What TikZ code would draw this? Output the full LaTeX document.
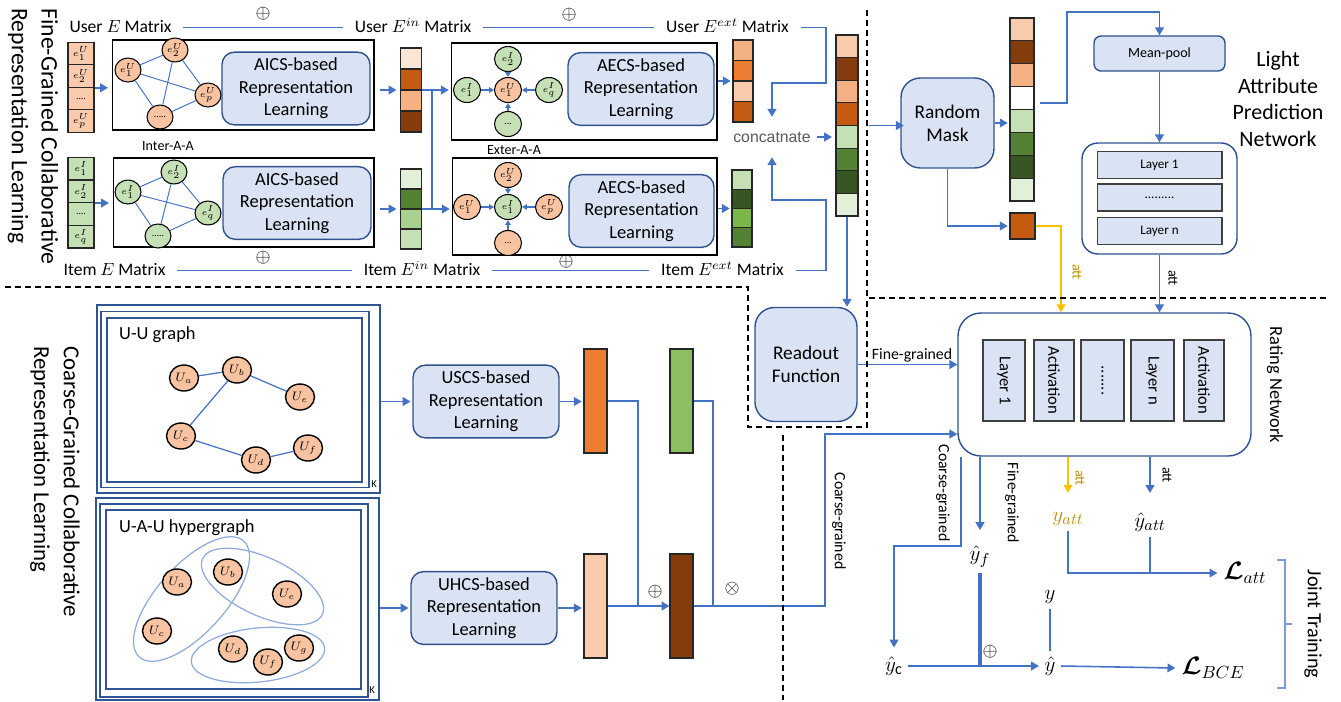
\documentclass[tikz,border=0pt]{standalone}
\usepackage{amsmath}
\usepackage{fontspec}
\setmainfont{Carlito}
\newfontfamily\arialfont{Liberation Sans}
\usetikzlibrary{arrows.meta,shapes.geometric}

\newcommand{\fsz}[2]{\fontsize{#1}{#2}\selectfont}

\definecolor{lineblue}{HTML}{4472C4}
\definecolor{boxfill}{HTML}{DAE3F3}
\definecolor{boxedge}{HTML}{2F528F}
\definecolor{frameblue}{HTML}{2F5597}
\definecolor{hyperblue}{HTML}{8FAADC}
\definecolor{gold}{HTML}{FFC000}
\definecolor{goldtext}{HTML}{BF9000}
\definecolor{catgray}{HTML}{595959}
\definecolor{nodepeach}{HTML}{F7C3A0}
\definecolor{peachL}{HTML}{FBE5D6}
\definecolor{peach}{HTML}{F8CBAD}
\definecolor{peachM}{HTML}{F4B183}
\definecolor{orangeM}{HTML}{ED7D31}
\definecolor{orangeD}{HTML}{C55A11}
\definecolor{brownD}{HTML}{843C0C}
\definecolor{greenL}{HTML}{E2F0D9}
\definecolor{greenM}{HTML}{C5E0B4}
\definecolor{greenA}{HTML}{A9D18E}
\definecolor{greenB}{HTML}{7AB648}
\definecolor{greenD}{HTML}{548235}
\definecolor{greenDD}{HTML}{375623}
\definecolor{greenbar}{HTML}{8CBF62}

\begin{document}
\begin{tikzpicture}[x=0.02cm, y=-0.02cm, font=\fsz{10}{12},
    ln/.style={draw=lineblue, line width=0.9pt},
    thinln/.style={draw=lineblue, line width=0.7pt},
    edge/.style={draw=lineblue, line width=0.55pt},
    arr/.style={ln, -{Triangle[length=4.5pt, width=5pt]}},
    thinarr/.style={draw=lineblue, line width=0.7pt, -{Triangle[length=2.8pt, width=3.2pt]}},
    goldarr/.style={draw=gold, line width=1pt, -{Triangle[length=4.5pt, width=5pt]}},
    divider/.style={draw=black, line width=1.1pt, dash pattern=on 3.4pt off 2.3pt},
    repbox/.style={draw=boxedge, fill=boxfill, line width=0.8pt, rounded corners=7pt, align=center, font=\fsz{10.5}{12.8}},
    graphbox/.style={draw=black, line width=0.6pt},
    cell/.style={draw=black!85, line width=0.6pt, inner sep=0},
    emb/.style={cell, minimum width=0.52cm, minimum height=0.45cm, font=\fsz{5.5}{6}},
    gnode/.style={ellipse, draw=black, line width=0.6pt, inner sep=0, minimum width=0.52cm, minimum height=0.48cm, font=\fsz{5.5}{6}},
    xnode/.style={gnode, minimum width=0.54cm, minimum height=0.5cm},
    unode/.style={ellipse, draw=black, line width=0.8pt, fill=nodepeach, inner sep=0, minimum width=0.58cm, minimum height=0.52cm, font=\fsz{7}{8}},
    kframe/.style={draw=frameblue, line width=0.8pt},
    hyper/.style={draw=hyperblue, line width=0.7pt},
    layerbox/.style={draw=black!75, fill=boxfill, line width=0.6pt, inner sep=0},
    lbl/.style={font=\fsz{10}{12}, text height=1.7ex, text depth=0.45ex, inner xsep=6.5pt},
    small/.style={font=\fsz{9}{10}},
    tiny/.style={font=\fsz{8}{9}},
    mathlbl/.style={font=\fsz{13}{14}, inner sep=3pt},
  ]
  \useasboundingbox (0,0) rectangle (1341,701);

  % ---------- fine-grained part ----------
  \node[rotate=-90, anchor=west, align=left, inner sep=0, font=\fsz{13.5}{17}] (fineT) at (33,8) {Fine-Grained Collaborative\\Representation Learning};

  \node[lbl] (uE) at (120.5,27.5) {User $E$ Matrix};
  \node[lbl] (uEin) at (413,27.5) {User $E^{in}$ Matrix};
  \node[lbl] (uEext) at (727.5,27.5) {User $E^{ext}$ Matrix};
  \node[lbl] (iE) at (114.5,270.5) {Item $E$ Matrix};
  \node[lbl] (iEin) at (422,270.5) {Item $E^{in}$ Matrix};
  \node[lbl] (iEext) at (722.5,270.5) {Item $E^{ext}$ Matrix};
  \node[font=\fsz{11}{12}] (pu1) at (263,14) {$\oplus$};
  \node[font=\fsz{11}{12}] (pu2) at (569,15) {$\oplus$};
  \node[font=\fsz{11}{12}] (pi1) at (263,258) {$\oplus$};
  \node[font=\fsz{11}{12}] (pi2) at (566,262) {$\oplus$};
  \draw[ln] (uE) -- (uEin);
  \draw[ln] (uEin) -- (uEext);
  \draw[ln] (iE) -- (iEin);
  \draw[ln] (iEin) -- (iEext);

  % attribute embeddings
  \node[emb, fill=peach] (ue1) at (81,53.5) {$e_1^U$};
  \node[emb, fill=peach] (ue2) at (81,76) {$e_2^U$};
  \node[emb, fill=peach] (ue3) at (81,98.5) {....};
  \node[emb, fill=peach] (ue4) at (81,121) {$e_p^U$};
  \node[emb, fill=greenM] (ie1) at (81,168.5) {$e_1^I$};
  \node[emb, fill=greenM] (ie2) at (81,191.25) {$e_2^I$};
  \node[emb, fill=greenM] (ie3) at (81,214) {....};
  \node[emb, fill=greenM] (ie4) at (81,236.75) {$e_q^I$};

  % inter-attribute graphs
  \node[graphbox, minimum width=5.24cm, minimum height=1.8cm] (uInter) at (243,85) {};
  \node[graphbox, minimum width=5.22cm, minimum height=1.78cm] (iInter) at (243.5,202.5) {};
  \node[repbox, minimum width=2.96cm, minimum height=1.34cm] (uAics) at (296,88.5) {AICS-based\\Representation\\Learning};
  \node[repbox, minimum width=2.96cm, minimum height=1.4cm] (iAics) at (297,203) {AICS-based\\Representation\\Learning};
  \node[tiny] (interT) at (168,146) {Inter-A-A};

  \node[gnode, fill=nodepeach] (ua1) at (128,70) {$e_1^U$};
  \node[gnode, fill=nodepeach] (ua2) at (175,50) {$e_2^U$};
  \node[gnode, fill=nodepeach] (uap) at (208,95) {$e_p^U$};
  \node[gnode, fill=nodepeach] (uad) at (160,117) {.....};
  \node[gnode, fill=greenM] (ia1) at (128,192) {$e_1^I$};
  \node[gnode, fill=greenM] (ia2) at (174,172) {$e_2^I$};
  \node[gnode, fill=greenM] (iaq) at (208,213) {$e_q^I$};
  \node[gnode, fill=greenM] (iad) at (158,236) {.....};
  \foreach \a/\b in {ua1/ua2, ua1/uap, ua1/uad, ua2/uap, ua2/uad, uap/uad,
                     ia1/ia2, ia1/iaq, ia1/iad, ia2/iaq, ia2/iad, iaq/iad}
    \draw[edge] (\a) -- (\b);

  \draw[arr, shorten >=2pt] (ue2.south east) -- (ue2.south east -| uInter.west);
  \draw[arr, shorten >=2pt] (ie2.south east) -- (ie2.south east -| iInter.west);

  % inner representations
  \node[cell, minimum width=0.42cm, minimum height=1.68cm] (uIn) at (411,90) {};
  \foreach \c [count=\i from 0] in {peachL,orangeD,peachM,brownD}
    \node[cell, fill=\c, minimum width=0.42cm, minimum height=0.42cm] at (411,58.5+21*\i) {};
  \node[cell, minimum width=0.42cm, minimum height=1.6cm] (iIn) at (411,209) {};
  \foreach \c [count=\i from 0] in {greenL,greenD,greenA,greenM}
    \node[cell, fill=\c, minimum width=0.42cm, minimum height=0.4cm] at (411,179+20*\i) {};
  \draw[arr, shorten <=3pt, shorten >=2pt] (uInter.east |- uIn.west) -- (uIn.west);
  \draw[arr, shorten <=3pt, shorten >=2pt] (iInter.east |- iIn.west) -- (iIn.west);

  % exter-attribute graphs
  \node[graphbox, minimum width=5.32cm, minimum height=1.94cm] (uExter) at (584,91.5) {};
  \node[graphbox, minimum width=5.3cm, minimum height=1.94cm] (iExter) at (584.5,206.5) {};
  \node[repbox, minimum width=2.92cm, minimum height=1.4cm] (uAecs) at (641,89) {AECS-based\\Representation\\Learning};
  \node[repbox, minimum width=2.9cm, minimum height=1.4cm] (iAecs) at (641.5,211) {AECS-based\\Representation\\Learning};
  \node[tiny] (exterT) at (514,150) {Exter-A-A};

  \node[xnode, fill=nodepeach] (xu) at (508,90) {$e_1^U$};
  \node[xnode, fill=greenM] (xut) at (508,59) {$e_2^I$};
  \node[xnode, fill=greenM] (xul) at (467,90) {$e_1^I$};
  \node[xnode, fill=greenM] (xur) at (549,90) {$e_q^I$};
  \node[xnode, fill=greenM] (xub) at (508,124) {...};
  \node[xnode, fill=greenM] (xi) at (508,207) {$e_1^I$};
  \node[xnode, fill=nodepeach] (xit) at (508,175) {$e_2^U$};
  \node[xnode, fill=nodepeach] (xil) at (467,207) {$e_1^U$};
  \node[xnode, fill=nodepeach] (xir) at (549,207) {$e_p^U$};
  \node[xnode, fill=nodepeach] (xib) at (508,243) {...};
  \foreach \n in {xut,xul,xur,xub} \draw[thinarr] (\n) -- (xu);
  \foreach \n in {xit,xil,xir,xib} \draw[thinarr] (\n) -- (xi);

  \coordinate (busU) at (432,90);
  \coordinate (busI) at (432,209);
  \draw[ln] (uIn.east) -- (busU) -- (busI);
  \draw[ln] (iIn.east) -- (busI);
  \draw[arr, shorten >=1pt] (busU) -- (busU -| uExter.west);
  \draw[arr, shorten >=1pt] (busI) -- (busI -| iExter.west);

  % exter representations
  \node[cell, minimum width=0.4cm, minimum height=1.64cm] (uExt) at (743,81) {};
  \foreach \c [count=\i from 0] in {peachM,orangeM,peach,orangeD}
    \node[cell, fill=\c, minimum width=0.4cm, minimum height=0.41cm] at (743,50.25+20.5*\i) {};
  \node[cell, minimum width=0.4cm, minimum height=1.54cm] (iExt) at (742,208.5) {};
  \foreach \c [count=\i from 0] in {greenM,greenDD,greenB,greenD}
    \node[cell, fill=\c, minimum width=0.4cm, minimum height=0.385cm] at (742,179.6+19.25*\i) {};
  \draw[arr, shorten >=1pt] (uExter.east |- uExt.west) -- (uExt.west);
  \draw[arr, shorten >=1pt] (iExter.east |- iExt.west) -- (iExt.west);

  % concatenation
  \node[font=\arialfont\fsz{9}{11}, text=catgray] (concat) at (772,137) {concatnate};
  \node[cell, minimum width=0.44cm, minimum height=3.62cm] (cat) at (847,125.5) {};
  \foreach \c [count=\i from 0] in {peach,brownD,peachM,orangeD,greenM,greenD,greenDD,greenL}
    \node[cell, fill=\c, minimum width=0.44cm, minimum height=0.4525cm] at (847,46.3+22.625*\i) {};
  \coordinate (bendU) at (826,83);
  \coordinate (bendI) at (826,200);
  \draw[arr, shorten >=5pt] (uEext.east) -| (bendU) -| (concat.north);
  \draw[arr, shorten >=5pt] (iEext.east) -| (bendI) -| (concat.south);
  \draw[arr, shorten >=2pt] (concat.east) -- (concat.east -| cat.west);

  % ---------- light attribute prediction network ----------
  \node[repbox, rounded corners=11pt, minimum width=1.86cm, minimum height=1.8cm, font=\fsz{11}{13}] (rmask) at (947.5,123) {Random\\Mask};
  \draw[arr, shorten >=4pt] ([xshift=6pt]cat.east) -- ([xshift=6pt]cat.east -| rmask.west);

  \node[cell, minimum width=0.48cm, minimum height=3.66cm] (mvec) at (1022,109.5) {};
  \foreach \c [count=\i from 0] in {peach,brownD,peachM,white,greenM,greenD,greenDD,greenL}
    \node[cell, fill=\c, minimum width=0.48cm, minimum height=0.4575cm] at (1022,29.44+22.875*\i) {};
  \node[cell, fill=orangeD, minimum width=0.5cm, minimum height=0.52cm] (mcell) at (1022.5,226) {};
  \draw[arr, shorten >=1pt] (rmask.east) -- (rmask.east -| mvec.west);
  \draw[arr, shorten >=1pt] (rmask.south) |- (mcell.west);

  \node[repbox, rounded corners=4pt, minimum width=2.62cm, minimum height=0.7cm, font=\fsz{8}{9}] (mean) at (1159.5,53.5) {Mean-pool};
  \coordinate (mpU) at (1067,12);
  \draw[arr] ([xshift=3pt, yshift=3.7pt]mvec.east) -| (mpU) -| (mean.north);

  \node[draw=boxedge, line width=0.8pt, rounded corners=9pt, fill=white, minimum width=3.1cm, minimum height=2.22cm] (lapn) at (1159.5,198.5) {};
  \node[layerbox, minimum width=2.5cm, minimum height=0.54cm, font=\fsz{7.5}{9}] (pl1) at (1159.5,165) {Layer 1};
  \node[layerbox, minimum width=2.5cm, minimum height=0.54cm, font=\fsz{7.5}{9}] (pld) at (1159.5,197.5) {.........};
  \node[layerbox, minimum width=2.5cm, minimum height=0.54cm, font=\fsz{7.5}{9}] (pln) at (1159.5,231) {Layer n};
  \draw[arr] (mean.south) -- (lapn.north);
  \node[align=center, font=\fsz{12.5}{15.3}] (lapnT) at (1278,99) {Light\\Attribute\\Prediction\\Network};

  % ---------- rating network ----------
  \node[draw=boxedge, line width=0.8pt, rounded corners=13pt, fill=white, minimum width=5.86cm, minimum height=2.86cm] (rating) at (1104.5,384.5) {};
  \node[layerbox, rotate=-90, minimum width=1.62cm, minimum height=0.84cm, font=\fsz{9.5}{10}] (r1) at (1004,380.5) {Layer 1};
  \node[layerbox, rotate=-90, minimum width=1.62cm, minimum height=0.8cm, font=\fsz{9.5}{10}] (r2) at (1054,380.5) {Activation};
  \node[layerbox, rotate=-90, minimum width=1.62cm, minimum height=0.86cm, font=\fsz{9.5}{10}] (r3) at (1102.5,380.5) {.......};
  \node[layerbox, rotate=-90, minimum width=1.62cm, minimum height=0.86cm, font=\fsz{9.5}{10}] (r4) at (1152.5,380.5) {Layer n};
  \node[layerbox, rotate=-90, minimum width=1.62cm, minimum height=0.8cm, font=\fsz{9.5}{10}] (r5) at (1204,380.5) {Activation};
  \node[rotate=-90, font=\fsz{10.5}{12}] (ratingT) at (1275,385) {Rating Network};

  \coordinate (goldx) at (1061,0);
  \draw[goldarr] (mcell.east) -| (goldx |- rating.north);
  \node[tiny, text=goldtext, rotate=-90] (attA) at (1077,272) {att};
  \draw[arr] (lapn.south) -- (lapn.south |- rating.north);
  \node[tiny, rotate=-90] (attB) at (1173,278) {att};

  % readout
  \node[repbox, rounded corners=11pt, minimum width=2.04cm, minimum height=2.28cm, font=\fsz{11}{13}] (readout) at (806,364.5) {Readout\\Function};
  \draw[arr] (cat.south) -- (cat.south |- readout.north);
  \draw[arr] (readout.east) -- (readout.east -| rating.west);
  \node[small] (fineA) at (912,355) {Fine-grained};

  % ---------- coarse-grained part ----------
  \node[rotate=-90, anchor=west, align=left, inner sep=0, font=\fsz{13}{17}] (coarseT) at (55,346) {Coarse-Grained Collaborative\\Representation Learning};

  % U-U graph, stacked K times
  \node[kframe, minimum width=5.66cm, minimum height=3.76cm] (uuOut) at (238.5,399) {};
  \node[kframe, minimum width=5.36cm, minimum height=3.52cm] (uuMid) at (235,399.5) {};
  \node[kframe, minimum width=5.1cm, minimum height=3.28cm] (uuIn) at (234.5,400) {};
  \node[font=\fsz{6}{7}] (uuK) at (374,484) {K};
  \node[anchor=west, font=\fsz{10.5}{12}] (uuT) at (113,335) {U-U graph};
  \node[unode] (ua) at (184,378) {$U_a$};
  \node[unode] (ub) at (237,370) {$U_b$};
  \node[unode] (uee) at (300,397) {$U_e$};
  \node[unode] (uc) at (181,436) {$U_c$};
  \node[unode] (ud) at (256,460) {$U_d$};
  \node[unode] (uf) at (308,448) {$U_f$};
  \foreach \a/\b in {ua/ub, ub/uee, ub/uc, uc/ud, ud/uf}
    \draw[thinln] (\a) -- (\b);

  % U-A-U hypergraph, stacked K times
  \node[kframe, minimum width=5.66cm, minimum height=4.04cm] (haOut) at (237.5,599) {};
  \node[kframe, minimum width=5.36cm, minimum height=3.86cm] (haMid) at (234,600.5) {};
  \node[kframe, minimum width=5.1cm, minimum height=3.58cm] (haIn) at (233.5,599.5) {};
  \node[font=\fsz{6}{7}] (haK) at (372,690) {K};
  \node[anchor=west, font=\fsz{10.5}{12}] (haT) at (113,528) {U-A-U hypergraph};
  \draw[hyper, rotate around={48:(191.5,599)}] (191.5,599) ellipse [x radius=78, y radius=34];
  \draw[hyper, rotate around={-25:(262.5,586.5)}] (262.5,586.5) ellipse [x radius=66, y radius=29];
  \draw[hyper, rotate around={6:(258,655)}] (258,655) ellipse [x radius=67, y radius=27];
  \node[unode] (ha) at (177,582) {$U_a$};
  \node[unode] (hb) at (228,572) {$U_b$};
  \node[unode] (he) at (287,594) {$U_e$};
  \node[unode] (hc) at (157,631) {$U_c$};
  \node[unode] (hd) at (233,649) {$U_d$};
  \node[unode] (hf) at (268,662) {$U_f$};
  \node[unode] (hg) at (299,648) {$U_g$};

  \node[repbox, minimum width=2.92cm, minimum height=1.4cm] (uscs) at (486,401.5) {USCS-based\\Representation\\Learning};
  \node[repbox, minimum width=2.92cm, minimum height=1.4cm] (uhcs) at (484,608) {UHCS-based\\Representation\\Learning};
  \draw[arr, shorten >=1pt] (uuOut.east |- uscs.west) -- (uscs.west);
  \draw[arr, shorten >=1pt] (haOut.east |- uhcs.west) -- (uhcs.west);

  \node[cell, fill=orangeM, minimum width=0.46cm, minimum height=2.08cm] (obar) at (595.5,401) {};
  \node[cell, fill=greenbar, minimum width=0.46cm, minimum height=2.08cm] (gbar) at (681.5,401) {};
  \node[cell, fill=peach, minimum width=0.46cm, minimum height=2.08cm] (pbar) at (595.5,606) {};
  \node[cell, fill=brownD, minimum width=0.46cm, minimum height=2.08cm] (bbar) at (681.5,606) {};
  \draw[arr, shorten >=1pt] (uscs.east) -- (uscs.east -| obar.west);
  \draw[arr, shorten >=1pt] (uhcs.east) -- (uhcs.east -| pbar.west);

  \coordinate (jo) at (638,606);
  \coordinate (jg) at (713,606);
  \coordinate (cg) at (825,434);
  \draw[thinln] (obar.east) -| (jo);
  \draw[thinln] (gbar.east) -| (jg);
  \draw[arr] (pbar.east) -- (bbar.west);
  \draw[arr] (bbar.east) -| (cg) -- (cg -| rating.west);
  \node[font=\fsz{11}{12}] (pc) at (655,592) {$\oplus$};
  \node[font=\fsz{11}{12}] (tc) at (732,589) {$\otimes$};
  \node[small, rotate=-90] (coarseA) at (839,521) {Coarse-grained};

  % ---------- joint training ----------
  \node[mathlbl] (yf) at (980,557) {$\hat{y}_f$};
  \node[mathlbl, text=goldtext] (yatt) at (1068,519) {$y_{att}$};
  \node[mathlbl] (yhatt) at (1150,522) {$\hat{y}_{att}$};
  \node[font=\fsz{14}{15}] (Latt) at (1245,573) {$\boldsymbol{\mathcal{L}}_{att}$};
  \node[mathlbl] (yc) at (894,666) {$\hat{y}_{\mathrm{c}}$};
  \node[mathlbl] (yy) at (1050,597) {$y$};
  \node[mathlbl] (yhat) at (1050,666) {$\hat{y}$};
  \node[font=\fsz{14}{15}] (Lbce) at (1213,668) {$\boldsymbol{\mathcal{L}}_{BCE}$};

  \coordinate (cgb) at (961,546);
  \draw[arr, shorten >=2pt] (rating.south -| cgb) -- (cgb) -| (yc.north);
  \node[small, rotate=-90] (coarseB) at (943,493) {Coarse-grained};
  \draw[arr, shorten >=6pt] (rating.south -| yf) -- (yf.north);
  \node[small, rotate=-90] (fineB) at (1012,503) {Fine-grained};
  \draw[goldarr, shorten >=8pt] (rating.south -| yatt) -- (yatt.north);
  \node[tiny, text=goldtext, rotate=-90] (attC) at (1080,478) {att};
  \draw[arr, shorten >=8pt] (rating.south -| yhatt) -- (yhatt.north);
  \node[tiny, rotate=-90] (attD) at (1167,475) {att};

  \draw[arr] (yatt.south) |- (Latt.west);
  \draw[ln] (yhatt.south) -- (yhatt.south |- Latt.west);
  \draw[arr] (yc.east) -- (yhat.west);
  \draw[draw=lineblue, line width=1.8pt] (yf.south) -- (yf.south |- yc.east);
  \node[font=\fsz{11}{12}] (pf) at (990,652) {$\oplus$};
  \draw[ln] (yy) -- (yhat);
  \draw[arr] (yhat.east) -- (Lbce.west);

  \draw[draw=lineblue!70, line width=0.6pt] (1277,560) -- (1285,560) -- (1285,688) -- (1277,688);
  \draw[draw=lineblue!70, line width=0.6pt] (1285,624) -- (1292,624);
  \node[rotate=-90, font=\fsz{11.5}{13}] (joint) at (1313,624) {Joint Training};

  % ---------- section dividers ----------
  \draw[divider] (867,10) -- (867,298) -- (1330,298);
  \draw[divider] (5,287) -- (748,287) -- (748,427) -- (867,427) -- (867,298);
  \draw[divider] (783,435) -- (783,700);
\end{tikzpicture}
\end{document}
